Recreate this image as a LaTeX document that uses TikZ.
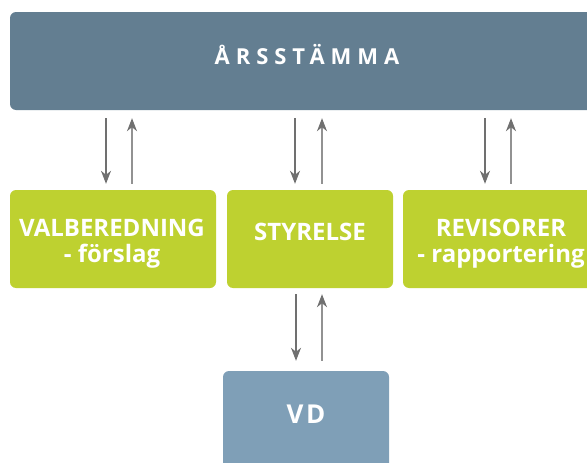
\documentclass[tikz,border=0pt]{standalone}
\usepackage{fontspec}
\setmainfont{Open Sans}
\newfontfamily\spacedfont{Open Sans}[LetterSpace=27]
\newfontfamily\vdfont{Open Sans}[LetterSpace=10]
\usetikzlibrary{arrows.meta,calc}
\definecolor{slatebox}{HTML}{637E91}
\definecolor{limebox}{HTML}{BED130}
\definecolor{steelbox}{HTML}{7F9FB7}
\definecolor{arrdark}{HTML}{707070}
\definecolor{arrlight}{HTML}{929292}
\begin{document}
\begin{tikzpicture}[x=1pt,y=-1pt,
  boxstyle/.style={rounded corners=6pt, minimum height=98pt, inner sep=0pt, draw=none},
  lbl/.style={text=white, font=\bfseries\fontsize{24}{26}\selectfont, align=center, inner sep=0pt, anchor=base},
  dnarrow/.style={draw=arrdark, line width=1.2pt, -{Stealth[length=13pt,width=10pt,inset=4pt]}},
  uparrow/.style={draw=arrlight, line width=1.2pt, -{Stealth[length=13pt,width=10pt,inset=4pt,color=arrdark]}}
]
\useasboundingbox (0,0) rectangle (587,463);
\clip (0,0) rectangle (587,463);
\node[boxstyle, fill=slatebox, minimum width=588pt] (arsstamma) at (304,61) {};
\node[boxstyle, fill=limebox, minimum width=206pt] (val) at (113,239) {};
\node[boxstyle, fill=limebox, minimum width=166pt] (sty) at (310,239) {};
\node[boxstyle, fill=limebox, minimum width=194pt] (rev) at (500,239) {};
\node[boxstyle, fill=steelbox, minimum width=166pt, minimum height=110pt] (vd) at (306,426) {};

\node[lbl, font=\spacedfont\bfseries\fontsize{22}{24}\selectfont] (tA) at (307,64) {ÅRSSTÄMMA};
\node[lbl] (tV) at (112,262) {VALBEREDNING\\- förslag};
\node[lbl] (tS) at (310,240) {STYRELSE};
\node[lbl] (tR) at (501,262) {REVISORER\\- rapportering};
\node[lbl, font=\vdfont\bfseries\fontsize{26}{30}\selectfont] (tD) at (306,423) {VD};

\draw[dnarrow] ($(arsstamma.south -| val.north)+(-7,8)$) -- ($(val.north)+(-7,-6)$);
\draw[uparrow] ($(val.north)+(19,-6)$) -- ($(arsstamma.south -| val.north)+(19,8)$);
\draw[dnarrow] ($(arsstamma.south -| sty.north)+(-15,8)$) -- ($(sty.north)+(-15,-6)$);
\draw[uparrow] ($(sty.north)+(12,-6)$) -- ($(arsstamma.south -| sty.north)+(12,8)$);
\draw[dnarrow] ($(arsstamma.south -| rev.north)+(-15,8)$) -- ($(rev.north)+(-15,-6)$);
\draw[uparrow] ($(rev.north)+(11,-6)$) -- ($(arsstamma.south -| rev.north)+(11,8)$);
\draw[dnarrow] ($(sty.south)+(-14,6)$) -- ($(vd.north -| sty.south)+(-14,-10)$);
\draw[uparrow] ($(vd.north -| sty.south)+(12,-10)$) -- ($(sty.south)+(12,6)$);
\end{tikzpicture}
\end{document}
